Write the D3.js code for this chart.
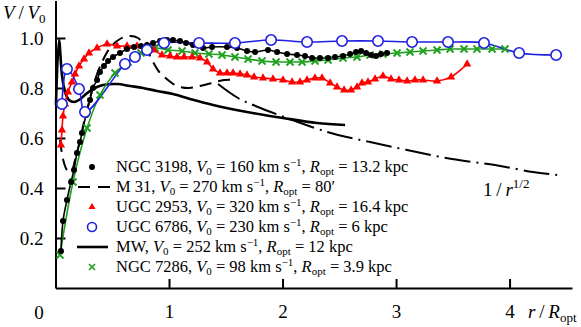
<!DOCTYPE html>
<html>
<head>
<meta charset="utf-8">
<script src="https://cdn.jsdelivr.net/npm/d3@7"></script>
<style>
  body { margin: 0; background: #fff; }
  svg, svg text { font-family: "Liberation Serif", "Times New Roman", Times, "DejaVu Serif", serif !important; }
</style>
</head>
<body>
<div id="chart"></div>
<script>
// values: [r/Ropt, V/V0]
const ngc3198 = [[0.048,0.148],[0.066,0.268],[0.101,0.352],[0.137,0.424],[0.163,0.472],[0.189,0.54],[0.216,0.584],[0.233,0.62],[0.269,0.692],[0.304,0.752],[0.33,0.8],[0.366,0.832],[0.392,0.864],[0.427,0.888],[0.463,0.908],[0.507,0.924],[0.568,0.94],[0.63,0.956],[0.692,0.964],[0.753,0.968],[0.806,0.972],[0.859,0.98],[0.921,0.988],[0.982,0.992],[1.035,0.992],[1.097,0.988],[1.15,0.98],[1.211,0.972],[1.3,0.96],[1.379,0.964],[1.511,0.964],[1.599,0.96],[1.687,0.948],[1.758,0.944],[1.872,0.952],[1.952,0.944],[2.04,0.936],[2.128,0.932],[2.198,0.928],[2.26,0.92],[2.33,0.92],[2.401,0.92],[2.463,0.924],[2.533,0.928],[2.595,0.936],[2.648,0.944],[2.692,0.948],[2.736,0.94],[2.78,0.932],[2.824,0.928],[2.868,0.936],[2.921,0.94]];

const m31 = [[0.04,0.592],[0.066,0.516],[0.101,0.472],[0.137,0.464],[0.172,0.512],[0.216,0.592],[0.251,0.664],[0.295,0.744],[0.348,0.832],[0.41,0.904],[0.48,0.96],[0.568,0.996],[0.656,1.008],[0.727,1.0],[0.797,0.96],[0.859,0.904],[0.921,0.86],[0.991,0.832],[1.07,0.808],[1.176,0.8],[1.273,0.808],[1.379,0.82],[1.485,0.832],[1.599,0.832]];

const invSqrt = [[1.432,0.816],[1.608,0.76],[1.784,0.724],[2.04,0.68],[2.286,0.64],[2.489,0.612],[2.771,0.584],[3.097,0.552],[3.493,0.516],[3.872,0.492],[4.207,0.464],[4.419,0.452]];

const ugc2953 = [[0.048,0.572],[0.057,0.632],[0.066,0.688],[0.084,0.736],[0.11,0.784],[0.145,0.824],[0.172,0.856],[0.207,0.888],[0.251,0.916],[0.295,0.94],[0.366,0.96],[0.454,0.976],[0.542,0.968],[0.63,0.968],[0.718,0.968],[0.806,0.968],[0.868,0.952],[0.938,0.932],[1.009,0.928],[1.07,0.924],[1.132,0.924],[1.203,0.924],[1.273,0.92],[1.335,0.904],[1.388,0.876],[1.449,0.86],[1.511,0.86],[1.564,0.86],[1.626,0.856],[1.687,0.852],[1.749,0.844],[1.828,0.84],[1.916,0.836],[2.004,0.832],[2.084,0.824],[2.154,0.824],[2.216,0.832],[2.286,0.84],[2.348,0.84],[2.419,0.82],[2.48,0.804],[2.542,0.792],[2.604,0.792],[2.656,0.804],[2.7,0.82],[2.753,0.824],[2.815,0.836],[2.885,0.848],[2.956,0.836],[3.026,0.832],[3.097,0.828],[3.167,0.832],[3.238,0.832],[3.361,0.828],[3.485,0.844],[3.626,0.896]];

const ugc6786 = [[0.057,0.736],[0.101,0.876],[0.207,0.796],[0.26,0.704],[0.612,0.896],[0.7,0.924],[0.806,0.952],[0.956,0.98],[1.264,0.98],[1.581,0.98],[1.899,0.992],[2.216,0.984],[2.524,0.988],[2.841,0.988],[3.141,0.984],[3.458,0.984],[3.775,0.98],[4.084,0.94],[4.41,0.932]];

const mw = [[0.004,0.732],[0.031,0.992],[0.057,0.852],[0.084,0.784],[0.119,0.752],[0.163,0.744],[0.207,0.752],[0.269,0.776],[0.33,0.796],[0.419,0.812],[0.542,0.816],[0.656,0.808],[0.771,0.8],[0.894,0.788],[1.035,0.776],[1.185,0.756],[1.388,0.732],[1.687,0.704],[2.004,0.68],[2.304,0.66],[2.551,0.652]];

const ngc7286 = [[0.04,0.132],[0.154,0.424],[0.278,0.64],[0.392,0.772],[0.524,0.86],[0.639,0.904],[0.753,0.94],[0.877,0.96],[0.991,0.952],[1.115,0.948],[1.229,0.94],[1.352,0.936],[1.467,0.932],[1.581,0.924],[1.696,0.916],[1.819,0.908],[1.943,0.904],[2.066,0.904],[2.172,0.904],[2.286,0.908],[2.401,0.912],[2.533,0.92],[2.656,0.924],[2.771,0.932],[2.885,0.936],[3.009,0.94],[3.123,0.944],[3.238,0.948],[3.361,0.952],[3.476,0.956],[3.599,0.956],[3.713,0.956],[3.846,0.956],[3.96,0.956]];

const xTicks = [1, 2, 3, 4];
const yTicks = [0.2, 0.4, 0.6, 0.8, 1.0];

const legendNames = ["NGC 3198", "M 31", "UGC 2953", "UGC 6786", "MW", "NGC 7286"];
const legendV0 = ["160", "270", "320", "230", "252", "98"];
const legendRopt = ["13.2 kpc", "80\u2032", "16.4 kpc", "6 kpc", "12 kpc", "3.9 kpc"];

const width = 581, height = 327;
const red = "#ff0000", blue = "#1f1fe0", green = "#1ea01e";
const serif = "'Liberation Serif', 'Times New Roman', Times, 'DejaVu Serif', serif";

const svg = d3.select("#chart").append("svg")
  .attr("width", width)
  .attr("height", height)
  .attr("font-family", serif);

const x = d3.scaleLinear().domain([0, 4.55]).range([55.5, 572]);
const y = d3.scaleLinear().domain([0, 1.15]).range([288, 0.5]);

// axes
const xAxis = svg.append("g")
  .attr("transform", "translate(0,288)")
  .call(d3.axisBottom(x).tickValues(xTicks).tickSizeInner(-9).tickSizeOuter(0).tickPadding(17).tickFormat(d3.format("d")));
const yAxis = svg.append("g")
  .attr("transform", "translate(55.5,0)")
  .call(d3.axisLeft(y).tickValues(yTicks).tickSizeInner(-10).tickSizeOuter(0).tickPadding(12).tickFormat(d3.format(".1f")));

[xAxis, yAxis].forEach(g => {
  g.attr("font-family", serif).attr("font-size", 19);
  g.select(".domain").attr("stroke", "#000").attr("stroke-width", 2);
  g.selectAll(".tick line").attr("stroke", "#000").attr("stroke-width", 2);
  g.selectAll(".tick text").attr("fill", "#000");
});

svg.append("text").attr("x", 39).attr("y", 319).attr("text-anchor", "middle")
  .attr("font-size", 19).text("0");

const line = d3.line().x(d => x(d[0])).y(d => y(d[1])).curve(d3.curveCatmullRom.alpha(0.5));

// lines
svg.append("path").datum(mw).attr("fill", "none").attr("stroke", "#000")
  .attr("stroke-width", 2.6).attr("d", line);
svg.append("path").datum(m31).attr("fill", "none").attr("stroke", "#000")
  .attr("stroke-width", 2).attr("stroke-dasharray", "12,7").attr("d", line);
svg.append("path").datum(invSqrt).attr("fill", "none").attr("stroke", "#000")
  .attr("stroke-width", 2).attr("stroke-dasharray", "26,6,2,6").attr("d", line);

svg.append("path").datum(ngc7286).attr("fill", "none").attr("stroke", green)
  .attr("stroke-width", 1.6).attr("d", line);
svg.append("path").datum(ugc2953).attr("fill", "none").attr("stroke", red)
  .attr("stroke-width", 1.6).attr("d", line);
svg.append("path").datum(ngc3198).attr("fill", "none").attr("stroke", "#000")
  .attr("stroke-width", 1.6).attr("d", line);
svg.append("path").datum(ugc6786).attr("fill", "none").attr("stroke", blue)
  .attr("stroke-width", 1.6).attr("d", line);

// markers
const xMark = s => `M${-s},${-s}L${s},${s}M${-s},${s}L${s},${-s}`;

svg.append("g").selectAll("path").data(ngc7286).enter().append("path")
  .attr("transform", d => `translate(${x(d[0])},${y(d[1])})`)
  .attr("d", xMark(3.5)).attr("stroke", green).attr("stroke-width", 1.8).attr("fill", "none");

svg.append("g").selectAll("path").data(ugc2953).enter().append("path")
  .attr("transform", d => `translate(${x(d[0])},${y(d[1])})`)
  .attr("d", d3.symbol(d3.symbolTriangle, 30)).attr("fill", red);

svg.append("g").selectAll("circle").data(ngc3198).enter().append("circle")
  .attr("cx", d => x(d[0])).attr("cy", d => y(d[1])).attr("r", 3).attr("fill", "#000");

svg.append("g").selectAll("circle").data(ugc6786).enter().append("circle")
  .attr("cx", d => x(d[0])).attr("cy", d => y(d[1])).attr("r", 5.2)
  .attr("fill", "#fff").attr("stroke", blue).attr("stroke-width", 1.6);

// legend
const leg = svg.append("g");
const lx = 92, ly0 = 167, ldy = 20;
legendNames.forEach((name, i) => {
  const cy = ly0 + i * ldy;
  if (i === 0) leg.append("circle").attr("cx", lx).attr("cy", cy).attr("r", 3).attr("fill", "#000");
  if (i === 1) leg.append("line").attr("x1", 78).attr("x2", 110).attr("y1", cy).attr("y2", cy)
    .attr("stroke", "#000").attr("stroke-width", 2).attr("stroke-dasharray", "12,8");
  if (i === 2) leg.append("path").attr("transform", `translate(${lx},${cy})`)
    .attr("d", d3.symbol(d3.symbolTriangle, 22)).attr("fill", red);
  if (i === 3) leg.append("circle").attr("cx", lx).attr("cy", cy).attr("r", 4.5)
    .attr("fill", "#fff").attr("stroke", blue).attr("stroke-width", 1.6);
  if (i === 4) leg.append("line").attr("x1", 77).attr("x2", 108).attr("y1", cy).attr("y2", cy)
    .attr("stroke", "#000").attr("stroke-width", 2.6);
  if (i === 5) leg.append("path").attr("transform", `translate(${lx},${cy})`)
    .attr("d", xMark(3)).attr("stroke", green).attr("stroke-width", 1.6).attr("fill", "none");

  const t = leg.append("text").attr("x", 116).attr("y", cy + 5).attr("font-size", 16.5);
  t.append("tspan").text(name + ", ");
  t.append("tspan").attr("font-style", "italic").text("V");
  t.append("tspan").attr("dy", 3).attr("font-size", 11).text("0");
  t.append("tspan").attr("dy", -3).text(" = " + legendV0[i] + " km s");
  t.append("tspan").attr("dy", -6).attr("font-size", 11).text("\u22121");
  t.append("tspan").attr("dy", 6).text(", ");
  t.append("tspan").attr("font-style", "italic").text("R");
  t.append("tspan").attr("dy", 3).attr("font-size", 11).text("opt");
  t.append("tspan").attr("dy", -3).text(" = " + legendRopt[i]);
});

// axis titles
const yt = svg.append("text").attr("x", 3).attr("y", 19).attr("font-size", 19);
yt.append("tspan").attr("font-style", "italic").text("V");
yt.append("tspan").text("\u2009/\u2009");
yt.append("tspan").attr("font-style", "italic").text("V");
yt.append("tspan").attr("dy", 4).attr("font-size", 13).text("0");

const xt = svg.append("text").attr("x", 528).attr("y", 318).attr("font-size", 19);
xt.append("tspan").attr("font-style", "italic").text("r");
xt.append("tspan").text("\u2009/\u2009");
xt.append("tspan").attr("font-style", "italic").text("R");
xt.append("tspan").attr("dy", 4).attr("font-size", 13).text("opt");

const rt = svg.append("text").attr("x", 483).attr("y", 196).attr("font-size", 19);
rt.append("tspan").text("1\u2009/\u2009");
rt.append("tspan").attr("font-style", "italic").text("r");
rt.append("tspan").attr("dy", -8).attr("font-size", 13).text("1/2");
</script>
</body>
</html>
